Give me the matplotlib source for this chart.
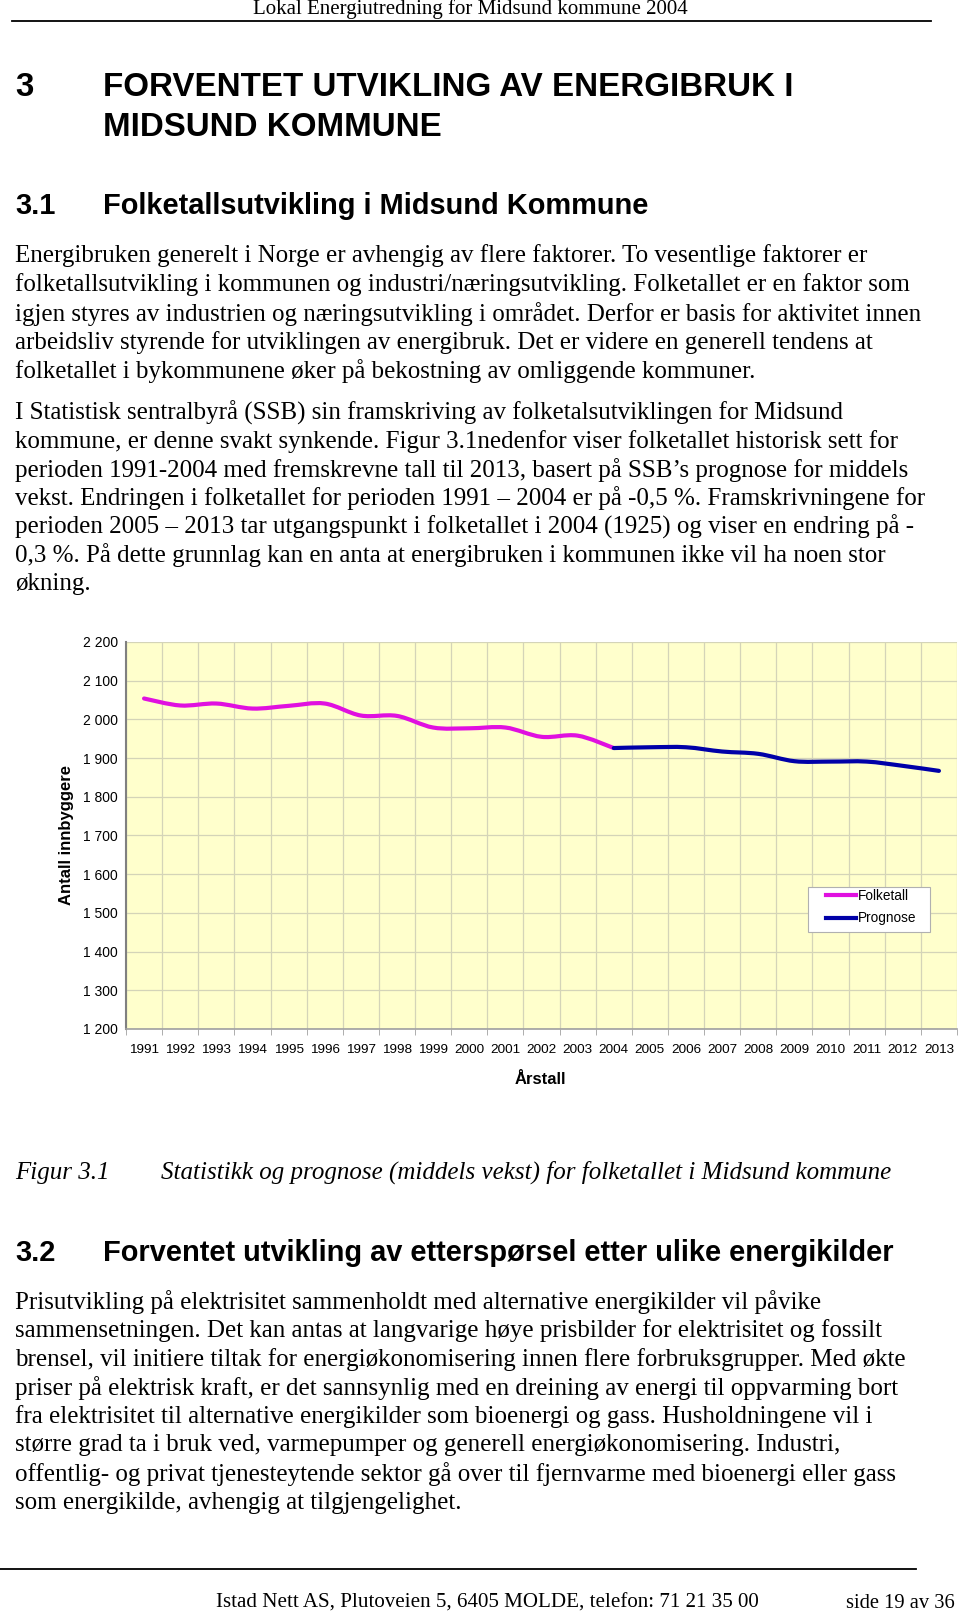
'''Midsund folketall - page recreation'''
import numpy as np
import matplotlib
matplotlib.use('Agg')
import matplotlib.pyplot as plt
from matplotlib.path import Path
from matplotlib.patches import PathPatch, Rectangle
from matplotlib.lines import Line2D
from matplotlib.ticker import FuncFormatter, FixedLocator

# data
years = list(range(1991, 2014))
folketall = [2054, 2036, 2041, 2028, 2035, 2041, 2010, 2009, 1979, 1977,
             1979, 1955, 1958, 1926]                     # 1991-2004
prognose = [1926, 1928, 1928, 1917, 1911, 1892, 1891, 1891, 1880, 1867]  # 2004-2013
yticks = list(range(1200, 2201, 100))

W, H = 960, 1613
fig = plt.figure(figsize=(W / 100, H / 100), dpi=100)
fig.patch.set_facecolor('white')

SERIF = ['Liberation Serif', 'DejaVu Serif']
SANS = ['Liberation Sans', 'DejaVu Sans']
NARROW = ['Liberation Sans Narrow', 'Liberation Sans', 'DejaVu Sans']
BODY = 18


def put(x, y, s, **kw):
    kw.setdefault('ha', 'left')
    kw.setdefault('va', 'center')
    kw.setdefault('family', SERIF)
    kw.setdefault('fontsize', BODY)
    fig.text(x / W, 1 - y / H, s, **kw)


def hline(y, x0, x1, lw=1.3):
    fig.add_artist(Line2D([x0 / W, x1 / W], [1 - y / H, 1 - y / H],
                          transform=fig.transFigure, color='black', lw=lw))


# page header
put(470, 9.5, 'Lokal Energiutredning for Midsund kommune 2004', ha='center', fontsize=15)
hline(21, 12, 931)

# headings
put(15, 88, '3', family=SANS, weight='bold', fontsize=23.9)
put(103, 88, 'FORVENTET UTVIKLING AV ENERGIBRUK I', family=SANS, weight='bold', fontsize=23.9)
put(103, 127, 'MIDSUND KOMMUNE', family=SANS, weight='bold', fontsize=23.9)
put(15, 205.5, '3.1', family=SANS, weight='bold', fontsize=20.9)
put(103, 205.5, 'Folketallsutvikling i Midsund Kommune', family=SANS, weight='bold', fontsize=20.9)

para1 = [
    'Energibruken generelt i Norge er avhengig av flere faktorer. To vesentlige faktorer er',
    'folketallsutvikling i kommunen og industri/næringsutvikling. Folketallet er en faktor som',
    'igjen styres av industrien og næringsutvikling i området. Derfor er basis for aktivitet innen',
    'arbeidsliv styrende for utviklingen av energibruk. Det er videre en generell tendens at',
    'folketallet i bykommunene øker på bekostning av omliggende kommuner.',
]
para2 = [
    'I Statistisk sentralbyrå (SSB) sin framskriving av folketalsutviklingen for Midsund',
    'kommune, er denne svakt synkende. Figur 3.1nedenfor viser folketallet historisk sett for',
    'perioden 1991-2004 med fremskrevne tall til 2013, basert på SSB\u2019s prognose for middels',
    'vekst. Endringen i folketallet for perioden 1991 \u2013 2004 er på -0,5 %. Framskrivningene for',
    'perioden 2005 \u2013 2013 tar utgangspunkt i folketallet i 2004 (1925) og viser en endring på -',
    '0,3 %. På dette grunnlag kan en anta at energibruken i kommunen ikke vil ha noen stor',
    'økning.',
]
para3 = [
    'Prisutvikling på elektrisitet sammenholdt med alternative energikilder vil påvike',
    'sammensetningen. Det kan antas at langvarige høye prisbilder for elektrisitet og fossilt',
    'brensel, vil initiere tiltak for energiøkonomisering innen flere forbruksgrupper. Med økte',
    'priser på elektrisk kraft, er det sannsynlig med en dreining av energi til oppvarming bort',
    'fra elektrisitet til alternative energikilder som bioenergi og gass. Husholdningene vil i',
    'større grad ta i bruk ved, varmepumper og generell energiøkonomisering. Industri,',
    'offentlig- og privat tjenesteytende sektor gå over til fjernvarme med bioenergi eller gass',
    'som energikilde, avhengig at tilgjengelighet.',
]
for i, line in enumerate(para1):
    put(15, 256 + 28.8 * i, line)
for i, line in enumerate(para2):
    put(15, 412.5 + 28.6 * i, line)

# chart
L, R, T, B = 126, 957, 642, 1029
ax = fig.add_axes([L / W, 1 - B / H, (R - L) / W, (B - T) / H])
ax.set_facecolor('#FFFFCC')
ax.set_xlim(-0.5, len(years) - 0.5)
ax.set_ylim(1200, 2200)


def smooth_path(xs, ys):
    # Catmull-Rom through the data points, as cubic Bezier segments
    pts = np.column_stack([xs, ys]).astype(float)
    verts = [pts[0]]
    codes = [Path.MOVETO]
    n = len(pts)
    for k in range(n - 1):
        p0 = pts[max(k - 1, 0)]
        p1 = pts[k]
        p2 = pts[k + 1]
        p3 = pts[min(k + 2, n - 1)]
        verts += [p1 + (p2 - p0) / 6, p2 - (p3 - p1) / 6, p2]
        codes += [Path.CURVE4] * 3
    return Path(verts, codes)


MAGENTA, NAVY = '#E010E0', '#0000A8'
x_hist = np.arange(len(folketall))
x_prog = np.arange(len(folketall) - 1, len(folketall) - 1 + len(prognose))
ax.add_patch(PathPatch(smooth_path(x_hist, folketall), fill=False,
                       edgecolor=MAGENTA, lw=3.0, capstyle='round', zorder=3))
ax.add_patch(PathPatch(smooth_path(x_prog, prognose), fill=False,
                       edgecolor=NAVY, lw=3.0, capstyle='round', zorder=3))

ax.yaxis.set_major_locator(FixedLocator(yticks))
ax.yaxis.set_major_formatter(FuncFormatter(lambda v, p: f'{int(v):,}'.replace(',', ' ')))
ax.set_xticks(range(len(years)))
ax.set_xticklabels([str(y) for y in years])
ax.set_xticks(np.arange(-0.5, len(years)), minor=True)
ax.tick_params(axis='x', which='major', length=0, pad=11, labelsize=9.7)
ax.tick_params(axis='x', which='minor', length=4, color='#A0A0A0')
ax.tick_params(axis='y', length=0, pad=6, labelsize=10)
for lab in ax.get_xticklabels() + ax.get_yticklabels():
    lab.set_family(NARROW)

ax.grid(True, axis='y', which='major', color='#D4D4B8', lw=0.9)
ax.grid(True, axis='x', which='minor', color='#D4D4B8', lw=0.9)
ax.set_axisbelow(True)
for s in ['top', 'right']:
    ax.spines[s].set_visible(False)
ax.spines['left'].set_color('#808080')
ax.spines['left'].set_linewidth(1.5)
ax.spines['bottom'].set_color('#A0A0A0')
ax.spines['bottom'].set_linewidth(1.2)

# legend: frame drawn as a box, entries from ax.legend without its own frame
ax.add_patch(Rectangle(((808 - L) / (R - L), (B - 932) / (B - T)),
                       122 / (R - L), 45 / (B - T), transform=ax.transAxes,
                       facecolor='white', edgecolor='#B0B0B0', lw=0.8, zorder=4))
handles = [Line2D([], [], color=MAGENTA, lw=3.0), Line2D([], [], color=NAVY, lw=3.0)]
leg = ax.legend(handles, ['Folketall', 'Prognose'], loc='upper left',
                bbox_to_anchor=((826 - L) / (R - L), (B - 889) / (B - T)),
                frameon=False, borderaxespad=0, borderpad=0,
                handlelength=2.2, handletextpad=0.15, labelspacing=0.62,
                prop={'family': NARROW, 'size': 9.8})
leg.set_zorder(5)

put(67, 835, 'Antall innbyggere', family=SANS, weight='bold', fontsize=12,
    rotation=90, ha='center')
put(540, 1079, 'Årstall', family=NARROW, weight='bold', fontsize=12, ha='center')

# caption and section 3.2
put(15, 1172.5, 'Figur 3.1', style='italic')
put(161, 1172.5, 'Statistikk og prognose (middels vekst) for folketallet i Midsund kommune',
    style='italic')
put(15, 1253, '3.2', family=SANS, weight='bold', fontsize=20.9)
put(103, 1253, 'Forventet utvikling av etterspørsel etter ulike energikilder',
    family=SANS, weight='bold', fontsize=20.9)
for i, line in enumerate(para3):
    put(15, 1302 + 28.7 * i, line)

# footer
hline(1569, 0, 916)
put(216, 1603, 'Istad Nett AS, Plutoveien 5, 6405 MOLDE, telefon: 71 21 35 00', fontsize=15.1)
put(846, 1603, 'side 19 av 36', fontsize=14.8)

fig.savefig('out.png', dpi=100)
